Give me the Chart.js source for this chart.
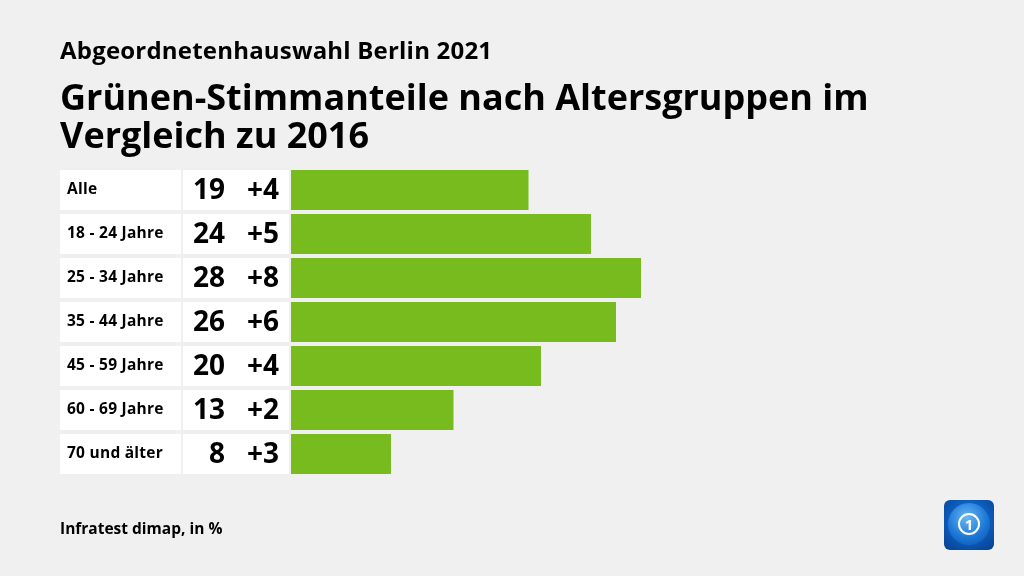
<!DOCTYPE html>
<html>
<head>
<meta charset="utf-8">
<script src="https://cdn.jsdelivr.net/npm/chart.js@4/dist/chart.umd.min.js"></script>
<style>
  html, body { margin: 0; padding: 0; background: #f0f0f0; width: 1024px; height: 576px; overflow: hidden; }
  #wrap { position: relative; width: 1024px; height: 576px; font-family: "Open Sans", sans-serif; color: #000; }
  #c { position: absolute; left: 0; top: 0; }
  .t { position: absolute; left: 60px; white-space: nowrap; }
  #sub { top: 33px; font-size: 24px; font-weight: 700; letter-spacing: 0.2px; }
  #title { top: 78px; font-size: 36px; font-weight: 700; line-height: 38px; letter-spacing: 0px; }
  #foot { top: 517px; font-size: 15.5px; font-weight: 700; }
  #logo { position: absolute; left: 944px; top: 500px; width: 50px; height: 50px; border-radius: 6px;
    background: radial-gradient(circle at 50% 40%, #2f8fe0 0%, #0d5fc0 45%, #063f8f 100%); overflow: hidden; }
  #logo .globe { position: absolute; left: 4px; top: 3px; width: 42px; height: 42px; border-radius: 50%;
    background: radial-gradient(circle at 45% 35%, #6ab8f5 0%, #1c78d6 55%, #0a4fa8 100%); }
  #logo .ring { position: absolute; left: 14px; top: 13px; width: 18px; height: 18px; border-radius: 50%;
    border: 2px solid #fff; color: #fff; font: bold 15px "Open Sans", sans-serif; text-align: center; line-height: 18px; }
</style>
</head>
<body>
<div id="wrap">
  <canvas id="c" width="1024" height="576"></canvas>
  <div class="t" id="sub">Abgeordnetenhauswahl Berlin 2021</div>
  <div class="t" id="title">Grünen-Stimmanteile nach Altersgruppen im<br>Vergleich zu 2016</div>
  <div class="t" id="foot">Infratest dimap, in %</div>
  <div id="logo"><div class="globe"></div><div class="ring">1</div></div>
</div>
<script>
const categories = ['Alle', '18 - 24 Jahre', '25 - 34 Jahre', '35 - 44 Jahre', '45 - 59 Jahre', '60 - 69 Jahre', '70 und älter'];
const shares = [19, 24, 28, 26, 20, 13, 8];
const changes = ['+4', '+5', '+8', '+6', '+4', '+2', '+3'];

const rowPlugin = {
  id: 'rows',
  beforeDatasetsDraw(chart) {
    const ctx = chart.ctx;
    const y = chart.scales.y;
    ctx.save();
    ctx.fillStyle = '#ffffff';
    categories.forEach((c, i) => {
      const cy = y.getPixelForValue(i);
      ctx.fillRect(60, cy - 20, 121, 40);
      ctx.fillRect(183, cy - 20, 106, 40);
    });
    ctx.restore();
  },
  afterDatasetsDraw(chart) {
    const ctx = chart.ctx;
    const y = chart.scales.y;
    ctx.save();
    ctx.fillStyle = '#000';
    ctx.textBaseline = 'middle';
    categories.forEach((c, i) => {
      const cy = y.getPixelForValue(i);
      ctx.font = '700 15.5px "Open Sans", sans-serif';
      ctx.letterSpacing = '0.25px';
      ctx.textAlign = 'left';
      ctx.fillText(c, 67, cy);
      ctx.letterSpacing = '0px';
      ctx.font = '700 28px "Open Sans", sans-serif';
      ctx.textAlign = 'right';
      ctx.fillText(String(shares[i]), 225, cy + 1);
      ctx.fillText(changes[i], 279, cy + 1);
    });
    ctx.restore();
  }
};

new Chart(document.getElementById('c'), {
  type: 'bar',
  data: {
    labels: categories,
    datasets: [{
      data: shares,
      backgroundColor: '#78bb1e',
      borderWidth: 0,
      barPercentage: 40 / 44,
      categoryPercentage: 1
    }]
  },
  options: {
    indexAxis: 'y',
    responsive: false,
    animation: false,
    layout: { padding: { left: 291, top: 168, right: 33, bottom: 100 } },
    plugins: { legend: { display: false }, tooltip: { enabled: false }, title: { display: false } },
    scales: {
      x: { min: 0, max: 56, display: false, grid: { display: false } },
      y: { display: false, grid: { display: false } }
    }
  },
  plugins: [rowPlugin]
});
</script>
</body>
</html>
